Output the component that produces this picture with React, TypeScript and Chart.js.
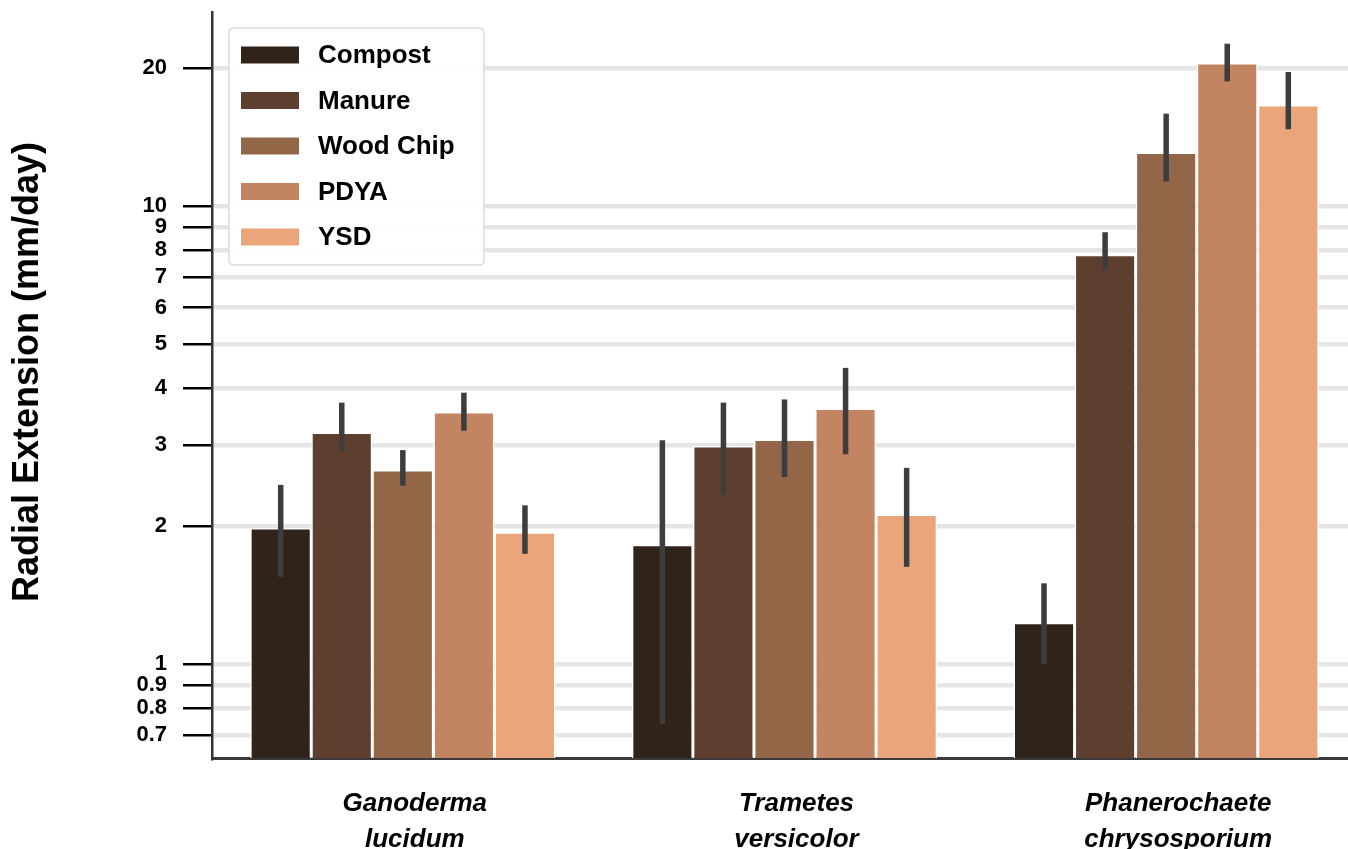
import React, { useEffect, useRef } from 'react';
import { Chart, registerables } from 'chart.js';

Chart.register(...registerables);

const FONT = '"Liberation Sans", Arial, Helvetica, sans-serif';

// Fungal species (two-line italic labels)
const species = [
  ['Ganoderma', 'lucidum'],
  ['Trametes', 'versicolor'],
  ['Phanerochaete', 'chrysosporium'],
];

const substrates = ['Compost', 'Manure', 'Wood Chip', 'PDYA', 'YSD'];
const substrateColors = ['#30231a', '#5e3f2f', '#926646', '#c38461', '#eaa57a'];

// Mean radial extension (mm/day) per species
const compost = [1.98, 1.82, 1.23];
const manure = [3.2, 2.99, 7.82];
const woodChip = [2.65, 3.09, 13.07];
const pdya = [3.55, 3.61, 20.5];
const ysd = [1.94, 2.12, 16.6];

// Error bar lower / upper bounds
const compostLow = [1.55, 0.74, 1.0];
const compostHigh = [2.46, 3.08, 1.5];
const manureLow = [2.92, 2.34, 7.25];
const manureHigh = [3.72, 3.72, 8.76];
const woodChipLow = [2.45, 2.56, 11.3];
const woodChipHigh = [2.93, 3.78, 15.9];
const pdyaLow = [3.23, 2.87, 18.7];
const pdyaHigh = [3.91, 4.43, 22.6];
const ysdLow = [1.74, 1.63, 14.7];
const ysdHigh = [2.22, 2.68, 19.6];

const yTicks = [0.7, 0.8, 0.9, 1, 2, 3, 4, 5, 6, 7, 8, 9, 10, 20];

const seriesValues = [compost, manure, woodChip, pdya, ysd];
const seriesLow = [compostLow, manureLow, woodChipLow, pdyaLow, ysdLow];
const seriesHigh = [compostHigh, manureHigh, woodChipHigh, pdyaHigh, ysdHigh];

const errorBarPlugin = {
  id: 'errorBars',
  afterDatasetsDraw(chart: any) {
    const { ctx } = chart;
    const yScale = chart.scales.y;
    ctx.save();
    ctx.strokeStyle = '#3d3d3d';
    ctx.lineWidth = 5.5;
    ctx.lineCap = 'butt';
    chart.data.datasets.forEach((_ds: any, i: number) => {
      const meta = chart.getDatasetMeta(i);
      meta.data.forEach((bar: any, j: number) => {
        const lo = seriesLow[i][j];
        const hi = seriesHigh[i][j];
        ctx.beginPath();
        ctx.moveTo(bar.x, yScale.getPixelForValue(lo));
        ctx.lineTo(bar.x, yScale.getPixelForValue(hi));
        ctx.stroke();
      });
    });
    ctx.restore();
  },
};

const legendAndTitlePlugin = {
  id: 'legendAndTitle',
  afterDraw(chart: any) {
    const { ctx } = chart;
    ctx.save();

    // Legend panel
    const bx = 229, by = 28, bw = 255, bh = 237, r = 5;
    ctx.beginPath();
    ctx.moveTo(bx + r, by);
    ctx.lineTo(bx + bw - r, by);
    ctx.quadraticCurveTo(bx + bw, by, bx + bw, by + r);
    ctx.lineTo(bx + bw, by + bh - r);
    ctx.quadraticCurveTo(bx + bw, by + bh, bx + bw - r, by + bh);
    ctx.lineTo(bx + r, by + bh);
    ctx.quadraticCurveTo(bx, by + bh, bx, by + bh - r);
    ctx.lineTo(bx, by + r);
    ctx.quadraticCurveTo(bx, by, bx + r, by);
    ctx.closePath();
    ctx.fillStyle = 'rgba(255,255,255,0.95)';
    ctx.fill();
    ctx.strokeStyle = '#dcdcdc';
    ctx.lineWidth = 1.5;
    ctx.stroke();

    ctx.font = `bold 26px ${FONT}`;
    ctx.textAlign = 'left';
    ctx.textBaseline = 'middle';
    chart.data.datasets.forEach((ds: any, i: number) => {
      const cy = 55 + i * 45.5;
      ctx.fillStyle = ds.backgroundColor;
      ctx.fillRect(241, cy - 8.5, 58, 17);
      ctx.fillStyle = '#000';
      ctx.fillText(ds.label, 318, cy + 1);
    });

    // Y axis title
    ctx.translate(28, 372);
    ctx.rotate(-Math.PI / 2);
    ctx.textAlign = 'center';
    ctx.textBaseline = 'middle';
    ctx.font = `bold 36px ${FONT}`;
    ctx.fillStyle = '#000';
    ctx.fillText('Radial Extension (mm/day)', 0, 0);
    ctx.restore();
  },
};

export default function App() {
  const canvasRef = useRef<HTMLCanvasElement | null>(null);

  useEffect(() => {
    document.body.style.overflow = 'hidden';
    const canvas = canvasRef.current;
    if (!canvas) return;
    const chart = new Chart(canvas, {
      type: 'bar',
      data: {
        labels: species,
        datasets: substrates.map((name, i) => ({
          label: name,
          data: seriesValues[i],
          backgroundColor: substrateColors[i],
          borderColor: '#ffffff',
          borderWidth: 1.5,
          categoryPercentage: 0.8,
          barPercentage: 1.0,
        })),
      },
      options: {
        responsive: false,
        animation: false,
        devicePixelRatio: 1,
        layout: { padding: { top: 12, left: 0, right: 0, bottom: 0 } },
        plugins: {
          legend: { display: false },
          tooltip: { enabled: false },
          title: { display: false },
        },
        scales: {
          x: {
            type: 'category',
            z: 1,
            grid: { display: false, drawTicks: false },
            border: { display: true, color: '#3a3a3a', width: 3 },
            ticks: {
              color: '#000',
              padding: 28,
              labelOffset: 12,
              maxRotation: 0,
              autoSkip: false,
              font: { family: FONT, size: 26, weight: 'bold', style: 'italic', lineHeight: 1.38 },
            },
            afterFit: (scale: any) => {
              scale.height = 91;
              scale.paddingLeft = 0;
              scale.paddingRight = 0;
            },
          },
          y: {
            type: 'logarithmic',
            bounds: 'data',
            min: 0.6234,
            max: 26.5,
            grid: {
              color: '#e5e5e5',
              lineWidth: 4.5,
              drawTicks: true,
              tickLength: 29,
              tickColor: '#000',
              tickWidth: 2.5,
            },
            border: { display: true, color: '#333333', width: 2.5 },
            ticks: {
              color: '#000',
              padding: 16,
              autoSkip: false,
              font: { family: FONT, size: 22, weight: 'bold' },
              callback: (v: any) => String(v),
            },
            afterBuildTicks: (scale: any) => {
              scale.ticks = yTicks.map((v) => ({ value: v }));
            },
            afterFit: (scale: any) => {
              scale.width = 212;
              scale.paddingTop = 0;
              scale.paddingBottom = 0;
            },
          },
        },
      },
      plugins: [errorBarPlugin, legendAndTitlePlugin],
    } as any);
    return () => chart.destroy();
  }, []);

  return (
    <canvas
      ref={canvasRef}
      width={1357}
      height={849}
      style={{ position: 'fixed', left: 0, top: 0, width: 1357, height: 849 }}
    />
  );
}
